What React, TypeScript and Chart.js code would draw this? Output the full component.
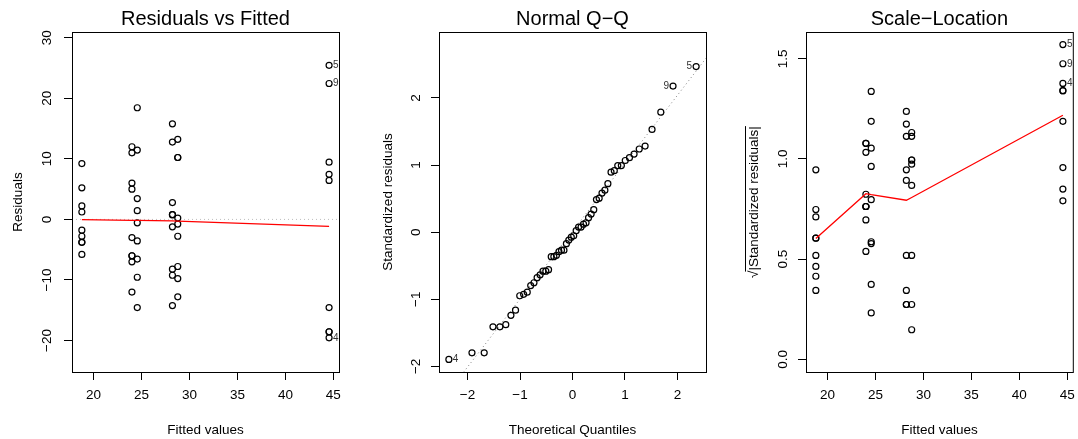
import React, { useEffect, useRef } from 'react';
import { Chart, registerables } from 'chart.js';

Chart.register(...registerables);

const FONT = '"Liberation Sans", Arial, Helvetica, sans-serif';
const MINUS = '\u2212';

// ---- data: six wool x tension cells, fitted values and residuals ----
const cellFitted = [44.556, 24.0, 24.556, 28.222, 28.778, 18.778];
const residAL = [-18.556, -14.556, 9.444, -19.556, 25.444, 7.444, 6.444, -18.556, 22.444];
const residAM = [-6, -3, 5, -7, -12, -6, 11, 6, 12];
const residAH = [11.444, -3.556, -0.556, -6.556, -14.556, 18.444, 3.444, -9.556, 1.444];
const residBL = [-1.222, -14.222, 0.778, -9.222, 0.778, 2.778, 12.778, -8.222, 15.778];
const residBM = [13.222, -2.778, -9.778, -12.778, 10.222, -0.778, -7.778, 10.222, 0.222];
const residBH = [1.222, 2.222, 5.222, -1.778, -5.778, -3.778, -3.778, -2.778, 9.222];

// sqrt(|standardized residuals|) per cell
const sqrtAL = [1.341, 1.188, 0.957, 1.377, 1.571, 0.85, 0.791, 1.341, 1.475];
const sqrtAM = [0.763, 0.539, 0.696, 0.824, 1.078, 0.763, 1.033, 0.763, 1.078];
const sqrtAH = [1.054, 0.587, 0.232, 0.797, 1.188, 1.337, 0.578, 0.963, 0.374];
const sqrtBL = [0.344, 1.174, 0.274, 0.946, 0.274, 0.519, 1.113, 0.893, 1.237];
const sqrtBM = [1.132, 0.519, 0.974, 1.113, 0.995, 0.274, 0.868, 0.995, 0.148];
const sqrtBH = [0.344, 0.464, 0.711, 0.415, 0.748, 0.605, 0.605, 0.519, 0.946];

// Normal Q-Q
const qqTheoretical = [-2.355, -1.915, -1.682, -1.515, -1.383, -1.271, -1.173, -1.085, -1.005, -0.931, -0.862, -0.796, -0.734, -0.674, -0.617, -0.562, -0.508, -0.456, -0.405, -0.355, -0.306, -0.258, -0.21, -0.163, -0.116, -0.07, -0.023, 0.023, 0.07, 0.116, 0.163, 0.21, 0.258, 0.306, 0.355, 0.405, 0.456, 0.508, 0.562, 0.617, 0.674, 0.734, 0.796, 0.862, 0.931, 1.005, 1.085, 1.173, 1.271, 1.383, 1.515, 1.682, 1.915, 2.355];
const qqSample = [-1.896, -1.799, -1.799, -1.411, -1.411, -1.379, -1.239, -1.163, -0.948, -0.927, -0.894, -0.797, -0.754, -0.679, -0.636, -0.582, -0.582, -0.56, -0.366, -0.366, -0.345, -0.291, -0.269, -0.269, -0.172, -0.118, -0.075, -0.054, 0.022, 0.075, 0.075, 0.118, 0.14, 0.215, 0.269, 0.334, 0.485, 0.506, 0.582, 0.625, 0.722, 0.894, 0.916, 0.991, 0.991, 1.067, 1.11, 1.163, 1.239, 1.282, 1.53, 1.788, 2.176, 2.467];
const qqLineIntercept = 0.015;
const qqLineSlope = 1.0127;

// smoothers (red lines)
const smoothX = [18.778, 24.0, 24.556, 28.222, 28.778, 44.556];
const smoothResid = [-0.02, -0.15, -0.17, -0.25, -0.27, -1.15];
const smoothSqrt = [0.603, 0.827, 0.822, 0.794, 0.808, 1.218];

// labelled observations
const idLabels = ['5', '9', '4'];
const idIndex = [4, 8, 3];
const qqIdIndex = [53, 52, 0];
const qqIdSide = ['left', 'left', 'right'];

// ticks
const fitTicks = [20, 25, 30, 35, 40, 45];
const residTicks = [-20, -10, 0, 10, 20, 30];
const qqTicks = [-2, -1, 0, 1, 2];
const sqrtTicks = [0, 0.5, 1, 1.5];

const residGroups = [residAL, residAM, residAH, residBL, residBM, residBH];
const sqrtGroups = [sqrtAL, sqrtAM, sqrtAH, sqrtBL, sqrtBM, sqrtBH];
const fittedAll = residGroups.flatMap((g, i) => g.map(() => cellFitted[i]));
const residAll = residGroups.flat();
const sqrtAll = sqrtGroups.flat();

const fmtInt = (v: number) => (v < 0 ? MINUS + Math.abs(v) : String(v));
const fmtOne = (v: number) => v.toFixed(1);

const H = 439;
const TOP = 32;
const BOTTOM = 372;
const XAXIS_H = 50;

type Spec = any;

const pointStyle = {
  pointRadius: 3,
  pointBorderWidth: 1.2,
  pointBorderColor: '#000',
  pointBackgroundColor: 'rgba(0,0,0,0)',
  showLine: false,
};

const lineStyle = {
  showLine: true,
  borderColor: '#FF0000',
  borderWidth: 1.3,
  pointRadius: 0,
  tension: 0,
};

function deco(s: Spec) {
  return {
    id: 'deco_' + s.key,
    beforeDatasetsDraw(chart: any) {
      const { ctx, chartArea: a, scales } = chart;
      const x = scales.x;
      const y = scales.y;
      if (s.refLine) {
        ctx.save();
        ctx.beginPath();
        ctx.rect(a.left, a.top, a.right - a.left, a.bottom - a.top);
        ctx.clip();
        ctx.strokeStyle = s.refLine.color;
        ctx.lineWidth = 1;
        ctx.setLineDash([1, 3]);
        const x0 = x.min;
        const x1 = x.max;
        ctx.beginPath();
        ctx.moveTo(x.getPixelForValue(x0), y.getPixelForValue(s.refLine.a + s.refLine.b * x0));
        ctx.lineTo(x.getPixelForValue(x1), y.getPixelForValue(s.refLine.a + s.refLine.b * x1));
        ctx.stroke();
        ctx.restore();
      }
    },
    afterDraw(chart: any) {
      const { ctx, chartArea: a, scales } = chart;
      const x = scales.x;
      const y = scales.y;
      ctx.save();
      // box
      ctx.strokeStyle = '#000';
      ctx.lineWidth = 1;
      ctx.setLineDash([]);
      ctx.strokeRect(a.left + 0.5, a.top + 0.5, a.right - a.left, a.bottom - a.top);
      ctx.fillStyle = '#000';
      // title
      ctx.font = `20px ${FONT}`;
      ctx.textAlign = 'center';
      ctx.textBaseline = 'alphabetic';
      ctx.fillText(s.title, (a.left + a.right) / 2, 25);
      // x title
      ctx.font = `13.5px ${FONT}`;
      ctx.fillText(s.xTitle, (a.left + a.right) / 2, 434);
      // y tick labels (rotated, parallel to axis)
      for (const v of s.yTicks) {
        const py = y.getPixelForValue(v);
        ctx.save();
        ctx.translate(a.left - s.yTickGap, py);
        ctx.rotate(-Math.PI / 2);
        ctx.textAlign = 'center';
        ctx.fillText(s.fmtY(v), 0, 0);
        ctx.restore();
      }
      // y title
      const cy = (a.top + a.bottom) / 2;
      ctx.save();
      ctx.translate(a.left - s.yTitleGap, cy);
      ctx.rotate(-Math.PI / 2);
      if (s.sqrtTitle) {
        const rad = '\u221A';
        const txt = '|' + s.yTitle + '|';
        const wR = ctx.measureText(rad).width;
        const wT = ctx.measureText(txt).width;
        const W = wR + wT;
        ctx.textAlign = 'left';
        ctx.fillText(rad, -W / 2, 0);
        ctx.fillText(txt, -W / 2 + wR, 0);
        ctx.lineWidth = 1;
        ctx.beginPath();
        ctx.moveTo(-W / 2 + wR * 0.85, -12.5);
        ctx.lineTo(W / 2, -12.5);
        ctx.stroke();
      } else {
        ctx.textAlign = 'center';
        ctx.fillText(s.yTitle, 0, 0);
      }
      ctx.restore();
      // id labels
      ctx.font = `10px ${FONT}`;
      ctx.fillStyle = '#333';
      ctx.textBaseline = 'middle';
      s.ids.forEach((id: any) => {
        const px = x.getPixelForValue(id.x);
        const py = y.getPixelForValue(id.y);
        if (id.side === 'left') {
          ctx.textAlign = 'right';
          ctx.fillText(id.text, px - 4, py);
        } else {
          ctx.textAlign = 'left';
          ctx.fillText(id.text, px + 4, py);
        }
      });
      ctx.restore();
    },
  };
}

function buildConfig(s: Spec) {
  const padRight = s.cw - (s.R - s.cx);
  return {
    type: 'scatter',
    data: { datasets: s.datasets },
    options: {
      responsive: false,
      animation: false,
      devicePixelRatio: 1,
      events: [],
      layout: { padding: { left: 0, right: padRight, top: TOP, bottom: H - BOTTOM - XAXIS_H } },
      plugins: {
        legend: { display: false },
        title: { display: false },
        tooltip: { enabled: false },
      },
      scales: {
        x: {
          type: 'linear',
          position: 'bottom',
          min: s.xMin,
          max: s.xMax,
          afterBuildTicks: (sc: any) => {
            sc.ticks = s.xTicks.map((v: number) => ({ value: v }));
          },
          afterFit: (sc: any) => {
            sc.height = XAXIS_H;
            sc.paddingLeft = 0;
            sc.paddingRight = 0;
          },
          ticks: {
            color: '#000',
            font: { family: FONT, size: 13.5 },
            padding: 7,
            maxRotation: 0,
            minRotation: 0,
            autoSkip: false,
            callback: (v: number) => fmtInt(v),
          },
          grid: { drawOnChartArea: false, drawTicks: true, tickLength: 8, color: '#000', lineWidth: 1 },
          border: { display: true, color: '#000', width: 1 },
        },
        y: {
          type: 'linear',
          position: 'left',
          min: s.yMin,
          max: s.yMax,
          afterBuildTicks: (sc: any) => {
            sc.ticks = s.yTicks.map((v: number) => ({ value: v }));
          },
          afterFit: (sc: any) => {
            sc.width = s.L - s.cx;
            sc.paddingTop = 0;
            sc.paddingBottom = 0;
          },
          ticks: { display: false, autoSkip: false },
          grid: { drawOnChartArea: false, drawTicks: true, tickLength: 8, color: '#000', lineWidth: 1 },
          border: { display: true, color: '#000', width: 1 },
        },
      },
    },
    plugins: [deco(s)],
  };
}

const specs: Spec[] = [
  {
    key: 'rvf',
    cx: 0,
    cw: 359,
    L: 72,
    R: 339,
    xMin: 17.75,
    xMax: 45.59,
    yMin: -25.2,
    yMax: 30.95,
    xTicks: fitTicks,
    yTicks: residTicks,
    fmtY: fmtInt,
    yTickGap: 21,
    yTitleGap: 50,
    title: 'Residuals vs Fitted',
    xTitle: 'Fitted values',
    yTitle: 'Residuals',
    refLine: { a: 0, b: 0, color: '#BEBEBE' },
    ids: idLabels.map((t, k) => ({ text: t, x: fittedAll[idIndex[k]], y: residAll[idIndex[k]], side: 'right' })),
    datasets: [
      { ...lineStyle, data: smoothX.map((v, i) => ({ x: v, y: smoothResid[i] })) },
      { ...pointStyle, data: fittedAll.map((v, i) => ({ x: v, y: residAll[i] })) },
    ],
  },
  {
    key: 'qq',
    cx: 359,
    cw: 359,
    L: 439,
    R: 706,
    xMin: -2.543,
    xMax: 2.543,
    yMin: -2.084,
    yMax: 2.982,
    xTicks: qqTicks,
    yTicks: qqTicks,
    fmtY: fmtInt,
    yTickGap: 19,
    yTitleGap: 47,
    title: 'Normal Q\u2212Q',
    xTitle: 'Theoretical Quantiles',
    yTitle: 'Standardized residuals',
    refLine: { a: qqLineIntercept, b: qqLineSlope, color: '#7F7F7F' },
    ids: idLabels.map((t, k) => ({ text: t, x: qqTheoretical[qqIdIndex[k]], y: qqSample[qqIdIndex[k]], side: qqIdSide[k] })),
    datasets: [{ ...pointStyle, data: qqTheoretical.map((v, i) => ({ x: v, y: qqSample[i] })) }],
  },
  {
    key: 'sl',
    cx: 718,
    cw: 360,
    L: 806,
    R: 1074,
    xMin: 17.75,
    xMax: 45.59,
    yMin: -0.0628,
    yMax: 1.6335,
    xTicks: fitTicks,
    yTicks: sqrtTicks,
    fmtY: fmtOne,
    yTickGap: 19,
    yTitleGap: 48,
    sqrtTitle: true,
    title: 'Scale\u2212Location',
    xTitle: 'Fitted values',
    yTitle: 'Standardized residuals',
    ids: idLabels.map((t, k) => ({ text: t, x: fittedAll[idIndex[k]], y: sqrtAll[idIndex[k]], side: 'right' })),
    datasets: [
      { ...lineStyle, data: smoothX.map((v, i) => ({ x: v, y: smoothSqrt[i] })) },
      { ...pointStyle, data: fittedAll.map((v, i) => ({ x: v, y: sqrtAll[i] })) },
    ],
  },
];

function Panel({ spec }: { spec: Spec }) {
  const ref = useRef<HTMLCanvasElement>(null);
  useEffect(() => {
    const chart = new Chart(ref.current as HTMLCanvasElement, buildConfig(spec) as any);
    return () => chart.destroy();
  }, [spec]);
  return (
    <canvas
      ref={ref}
      width={spec.cw}
      height={H}
      style={{ position: 'absolute', left: spec.cx, top: 0, width: spec.cw, height: H }}
    />
  );
}

export default function App() {
  return (
    <div style={{ position: 'fixed', left: 0, top: 0, width: 1078, height: H, background: '#fff' }}>
      {specs.map((s) => (
        <Panel key={s.key} spec={s} />
      ))}
    </div>
  );
}
